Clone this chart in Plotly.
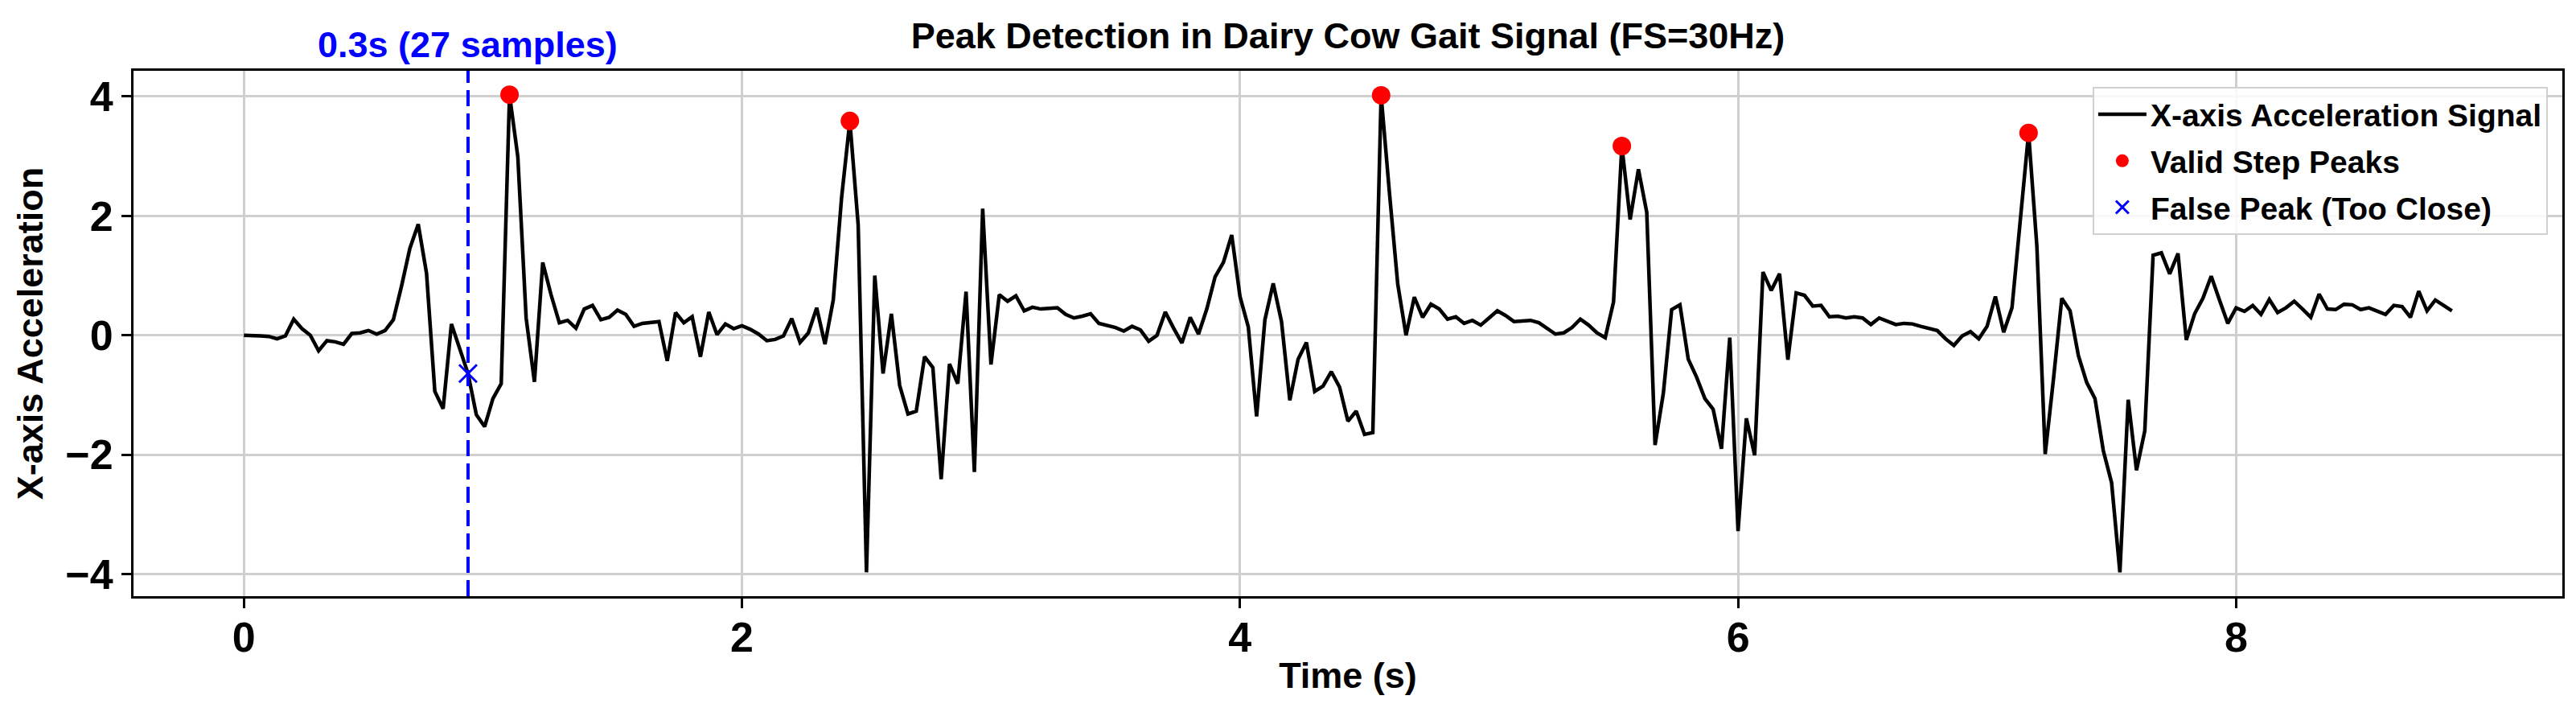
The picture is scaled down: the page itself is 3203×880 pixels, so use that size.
import numpy as np
import plotly.graph_objects as go

FS = 30  # sampling frequency (Hz)

signal = [
    0.00, 0.00, -0.01, -0.02, -0.06, -0.01, 0.27, 0.11, 0.00, -0.26,
    -0.09, -0.11, -0.15, 0.03, 0.04, 0.08, 0.02, 0.08, 0.26, 0.83,
    1.46, 1.86, 1.04, -0.94, -1.23, 0.19, -0.22, -0.64, -1.33, -1.53,
    -1.06, -0.81, 4.03, 2.99, 0.29, -0.78, 1.22, 0.68, 0.21, 0.25,
    0.12, 0.44, 0.50, 0.26, 0.30, 0.42, 0.35, 0.15, 0.20, 0.21,
    0.23, -0.43, 0.38, 0.21, 0.31, -0.36, 0.39, 0.01, 0.19, 0.11,
    0.16, 0.10, 0.02, -0.09, -0.07, -0.01, 0.28, -0.12, 0.04, 0.46,
    -0.15, 0.59, 2.30, 3.59, 1.85, -3.97, 1.00, -0.64, 0.36, -0.84,
    -1.32, -1.27, -0.36, -0.54, -2.41, -0.48, -0.81, 0.73, -2.29, 2.12,
    -0.49, 0.68, 0.57, 0.66, 0.41, 0.47, 0.44, 0.45, 0.46, 0.35,
    0.29, 0.32, 0.36, 0.20, 0.17, 0.13, 0.07, 0.15, 0.09, -0.10,
    0.00, 0.39, 0.12, -0.13, 0.30, 0.02, 0.44, 0.98, 1.22, 1.68,
    0.65, 0.14, -1.36, 0.26, 0.87, 0.23, -1.09, -0.40, -0.12, -0.94,
    -0.85, -0.61, -0.87, -1.44, -1.27, -1.66, -1.63, 4.02, 2.39, 0.86,
    0.00, 0.64, 0.30, 0.52, 0.44, 0.27, 0.31, 0.20, 0.25, 0.17,
    0.29, 0.41, 0.33, 0.23, 0.24, 0.25, 0.21, 0.12, 0.02, 0.04,
    0.13, 0.27, 0.17, 0.04, -0.04, 0.56, 3.17, 1.94, 2.78, 2.06,
    -1.84, -0.97, 0.43, 0.51, -0.40, -0.70, -1.06, -1.24, -1.90, -0.04,
    -3.28, -1.39, -2.01, 1.06, 0.75, 1.03, -0.41, 0.71, 0.67, 0.49,
    0.50, 0.31, 0.32, 0.29, 0.31, 0.29, 0.18, 0.29, 0.24, 0.18,
    0.20, 0.19, 0.15, 0.11, 0.08, -0.06, -0.17, -0.01, 0.06, -0.06,
    0.15, 0.65, 0.05, 0.46, 1.85, 3.39, 1.49, -1.99, -0.73, 0.62,
    0.41, -0.34, -0.79, -1.06, -1.93, -2.47, -3.97, -1.08, -2.26, -1.60,
    1.34, 1.38, 1.03, 1.37, -0.08, 0.36, 0.62, 0.99, 0.59, 0.20,
    0.46, 0.40, 0.50, 0.35, 0.60, 0.38, 0.46, 0.57, 0.44, 0.30,
    0.69, 0.44, 0.43, 0.52, 0.51, 0.43, 0.46, 0.41, 0.35, 0.50,
    0.48, 0.30, 0.74, 0.41, 0.59, 0.50, 0.41,
]

valid_peak_idx = [32, 73, 137, 166, 215]
false_peak_idx = [27]
window_line_idx = 27
window_label = "0.3s (27 samples)"

x_ticks = [0, 2, 4, 6, 8]
y_ticks = [-4, -2, 0, 2, 4]

title_text = "Peak Detection in Dairy Cow Gait Signal (FS=30Hz)"
x_label = "Time (s)"
y_label = "X-axis Acceleration"
names = ["X-axis Acceleration Signal", "Valid Step Peaks", "False Peak (Too Close)"]

sig = np.array(signal)
t = np.arange(len(sig)) / FS

FONT = "Liberation Sans, Arial, Helvetica, sans-serif"

fig = go.Figure()
fig.add_trace(go.Scatter(
    x=t, y=sig, mode="lines", name=names[0], legendgroup="a",
    line=dict(color="black", width=4.5),
))
fig.add_trace(go.Scatter(
    x=t[valid_peak_idx], y=sig[valid_peak_idx], mode="markers", name=names[1],
    legendgroup="b", marker=dict(color="#ff0000", size=23),
))
fig.add_trace(go.Scatter(
    x=t[false_peak_idx], y=sig[false_peak_idx], mode="markers", name=names[2],
    legendgroup="c",
    marker=dict(symbol="x-thin", size=22, color="#0000ff",
                line=dict(color="#0000ff", width=3)),
))

fig.add_shape(
    type="line", xref="x", yref="paper",
    x0=t[window_line_idx], x1=t[window_line_idx], y0=0, y1=1,
    line=dict(color="#0000ff", width=4, dash="20px,9px"),
)
fig.add_annotation(
    x=t[window_line_idx], y=1, xref="x", yref="paper", text=window_label,
    showarrow=False, xanchor="center", yanchor="bottom", yshift=5,
    font=dict(family=FONT, size=45, color="#0000ff", weight="bold"),
)

xspan = t[-1] - t[0]
yspan = sig.max() - sig.min()
xr = [t[0] - 0.05 * xspan, t[-1] + 0.05 * xspan]
yr = [sig.min() - 0.05 * yspan, sig.max() + 0.05 * yspan]

axis_common = dict(
    ticks="outside", ticklen=12, tickwidth=3, tickcolor="black",
    showline=True, linecolor="black", linewidth=3, mirror=True,
    showgrid=True, gridcolor="#cfcfcf", gridwidth=2.5, zeroline=False,
    tickfont=dict(family=FONT, size=52, color="black", weight="bold"),
    automargin=False,
)

fig.update_xaxes(
    range=xr, tickvals=x_ticks, **axis_common, ticklabelstandoff=-8,
    title=dict(text=x_label, font=dict(family=FONT, size=45, weight="bold"), standoff=4),
)
fig.update_yaxes(
    range=yr, tickvals=y_ticks, **axis_common,
    title=dict(text=y_label, font=dict(family=FONT, size=45, weight="bold"), standoff=14),
)

fig.update_layout(
    width=3203, height=880,
    margin=dict(l=158, r=25, t=80, b=147),
    paper_bgcolor="white", plot_bgcolor="white",
    font=dict(family=FONT, color="black"),
    title=dict(
        text=title_text, font=dict(family=FONT, size=45, weight="bold", color="black"),
        x=0.5, xref="paper", xanchor="center",
        y=1 - 36 / 880, yref="container", yanchor="middle",
    ),
    showlegend=True,
    legend=dict(
        x=0.994, y=0.969, xanchor="right", yanchor="top",
        font=dict(family=FONT, size=39, weight="bold", color="black"),
        bgcolor="rgba(255,255,255,0.85)", bordercolor="#d0d0d0", borderwidth=2,
        itemwidth=60, tracegroupgap=4,
    ),
)

fig.write_html("out.html")
